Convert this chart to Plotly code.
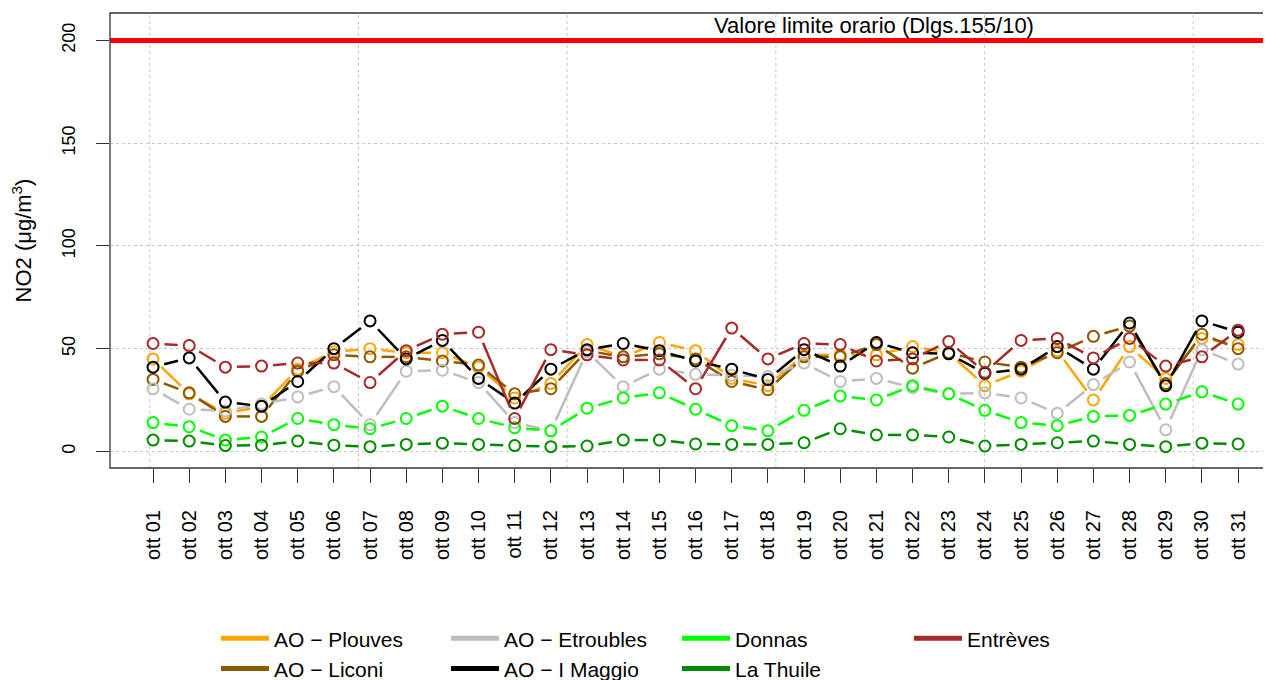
import math
import plotly.graph_objects as go

days = list(range(1, 32))
day_labels = ["ott %02d" % d for d in days]

plouves = [45, 28, 18.5, 21.8, 40, 48.5, 50, 48, 48, 41, 26, 33, 52, 46, 53, 49, 35.5, 32,
           47, 47, 47, 51, 48, 32, 39, 49, 25, 51, 35.5, 55, 52]
liconi = [35, 28.5, 17, 17, 39, 47, 46, 46, 44, 42, 28, 30.5, 49, 46, 47.5, 45, 34, 30,
          46, 46, 52, 40.5, 48, 43.5, 41, 48, 56, 61, 33, 57, 50]
etroubles = [30.5, 20.5, 19.7, 23, 26.5, 31.5, 13, 39, 39.5, 33.5, 14, 10, 48.5, 31.5, 40, 37.5, 37, 36.5,
             43, 34, 35.5, 31, 28, 28.5, 26, 18.5, 32.5, 43.5, 10.5, 49.5, 42.5]
maggio = [41, 45.5, 24, 22, 34, 50, 63.5, 45, 54, 35.5, 23.5, 40, 49.5, 52.5, 49, 44, 40, 35,
          49.5, 41.5, 53, 48, 47.5, 38, 40, 51, 40, 62.5, 32, 63.5, 58]
donnas = [14, 12, 5.5, 7, 16, 13, 11, 16, 22, 16, 11.5, 10, 21, 26, 28.5, 20.5, 12.5, 10,
          20, 27, 25, 32, 28, 20, 14, 12.5, 17, 17.5, 23, 29, 23]
la_thuile = [5.5, 5, 2.8, 3, 5, 3, 2.3, 3.4, 4, 3.4, 2.8, 2.3, 2.6, 5.5, 5.5, 3.6, 3.4, 3.4,
             4.2, 11, 8, 8, 7, 2.6, 3.4, 4.2, 5, 3.4, 2.3, 4, 3.6]
entreves = [52.5, 51.5, 41, 41.5, 43, 43, 33.5, 49, 57, 58, 16, 49.5, 47, 44.5, 44.5, 30.5, 60, 45,
            52.5, 52, 44, 45, 53.5, 38.5, 54, 55, 45.5, 55, 41.5, 46, 59]

limit_value = 200
limit_label = "Valore limite orario (Dlgs.155/10)"
y_ticks = [0, 50, 100, 150, 200]

series = [
    ("AO − Plouves", plouves, "#FFA500"),
    ("AO − Liconi", liconi, "#8B5A00"),
    ("AO − Etroubles", etroubles, "#BEBEBE"),
    ("AO − I Maggio", maggio, "#000000"),
    ("Donnas", donnas, "#00FF00"),
    ("La Thuile", la_thuile, "#008B00"),
    ("Entrèves", entreves, "#A52A2A"),
]
legend_of = {"AO − Plouves": "legend", "AO − Liconi": "legend",
             "AO − Etroubles": "legend2", "AO − I Maggio": "legend2",
             "Donnas": "legend3", "La Thuile": "legend3",
             "Entrèves": "legend4"}

# layout geometry (page body has an 8px offset)
W, H = 1271, 680
ML, MR, MT, MB = 102, 8, 5, 220
xr = [-0.19, 31.91]
yr = [-8.1, 213.4]
pw = W - ML - MR
ph = H - MT - MB
sx = pw / (xr[1] - xr[0])
sy = ph / (yr[1] - yr[0])
GAP = 11.5  # px gap around points (R type="b")


def gapped(xs, ys):
    gx, gy = [], []
    for i in range(len(xs) - 1):
        dx = xs[i + 1] - xs[i]
        dy = ys[i + 1] - ys[i]
        L = math.hypot(dx * sx, dy * sy)
        if L <= 2 * GAP:
            continue
        f = GAP / L
        gx += [xs[i] + f * dx, xs[i + 1] - f * dx, None]
        gy += [ys[i] + f * dy, ys[i + 1] - f * dy, None]
    return gx, gy


fig = go.Figure()
for name, vals, col in series:
    gx, gy = gapped(days, vals)
    fig.add_trace(go.Scatter(x=gx, y=gy, mode="lines", line=dict(color=col, width=2.5),
                             showlegend=False, hoverinfo="skip"))
    fig.add_trace(go.Scatter(x=days, y=vals, mode="markers", name=name,
                             marker=dict(symbol="circle-open", size=11, color=col,
                                         line=dict(width=2, color=col)),
                             showlegend=False))
for name, vals, col in series:
    fig.add_trace(go.Scatter(x=[None], y=[None], mode="lines", name=name,
                             line=dict(color=col, width=5), legend=legend_of[name]))

vgrid = [0.91, 6.68, 12.45, 18.22, 23.99, 29.76]
shapes = []
for gxp in vgrid:
    shapes.append(dict(type="line", xref="x", yref="paper", x0=gxp, x1=gxp, y0=0, y1=1,
                       line=dict(color="#C8C8C8", width=1, dash="dot"), layer="below"))
shapes.append(dict(type="line", xref="paper", yref="y", x0=0, x1=1, y0=limit_value, y1=limit_value,
                   line=dict(color="#FF0000", width=5), layer="above"))
shapes.append(dict(type="rect", xref="paper", yref="paper", x0=0, x1=1.05, y0=0, y1=1,
                   line=dict(color="#333333", width=1.3), fillcolor="rgba(0,0,0,0)"))

font = "Liberation Sans, Arial, sans-serif"
leg_common = dict(orientation="v", yanchor="top", xanchor="left", y=-0.330,
                  font=dict(family=font, size=21, color="#000"), bgcolor="rgba(0,0,0,0)",
                  itemwidth=48)

fig.update_layout(
    width=W, height=H,
    margin=dict(l=ML, r=MR, t=MT, b=MB, autoexpand=False),
    paper_bgcolor="white", plot_bgcolor="white",
    font=dict(family=font, color="#000"),
    shapes=shapes,
    xaxis=dict(range=xr, tickmode="array", tickvals=days, ticktext=day_labels, tickangle=-90,
               ticks="outside", ticklen=14, tickcolor="#333", tickwidth=1.2,
               showgrid=False, zeroline=False, showline=False, automargin=False,
               tickfont=dict(family=font, size=20, color="#000"), ticklabelstandoff=19),
    yaxis=dict(range=yr, tickmode="array", tickvals=y_ticks, tickangle=-90,
               ticks="outside", ticklen=13, tickcolor="#333", tickwidth=1.2,
               showgrid=True, gridcolor="#C8C8C8", griddash="dot", gridwidth=1,
               zeroline=False, showline=False, automargin=False,
               tickfont=dict(family=font, size=18, color="#000"), ticklabelstandoff=14,
               title=dict(text="NO2 (μg/m<sup>3</sup>)", font=dict(family=font, size=22, color="#000"),
                          standoff=22)),
    legend=dict(x=(216 - 8 - ML) / pw, **leg_common),
    legend2=dict(x=(446 - 8 - ML) / pw, **leg_common),
    legend3=dict(x=(677 - 8 - ML) / pw, **leg_common),
    legend4=dict(x=(909 - 8 - ML) / pw, **leg_common),
    annotations=[dict(x=20.93, y=limit_value, xref="x", yref="y", text=limit_label, showarrow=False,
                      yanchor="bottom", xanchor="center", yshift=1,
                      font=dict(family=font, size=22, color="#000"))],
)

fig.write_html("out.html")
